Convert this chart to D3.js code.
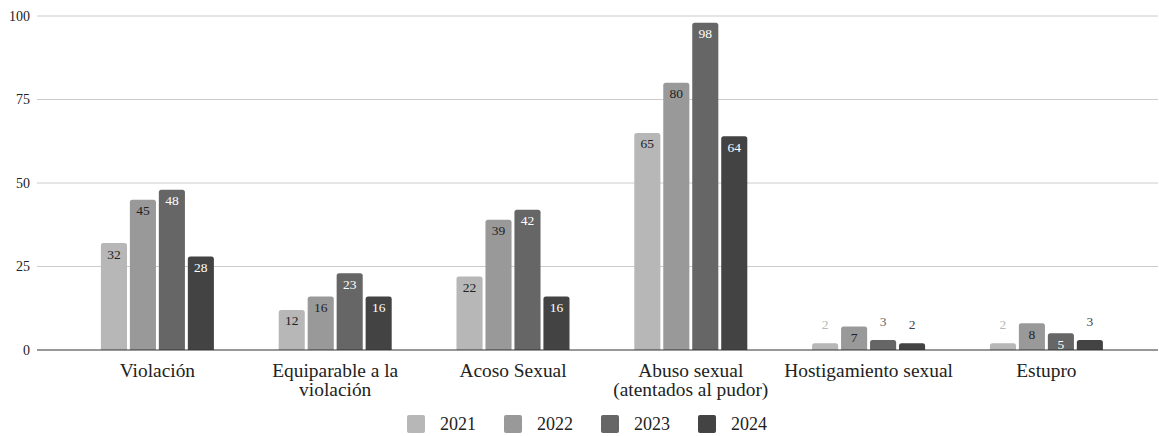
<!DOCTYPE html>
<html>
<head>
<meta charset="utf-8">
<script src="https://cdn.jsdelivr.net/npm/d3@7"></script>
<style>
  html, body { margin: 0; padding: 0; background: #ffffff; }
  svg { display: block; }
  text { font-family: "Liberation Serif", "Times New Roman", Times, serif; }
</style>
</head>
<body>
<svg id="chart" width="1159" height="436"></svg>
<script>
// ---- data ----
const categories = ["Violación", "Equiparable a la\nviolación", "Acoso Sexual", "Abuso sexual\n(atentados al pudor)", "Hostigamiento sexual", "Estupro"];
const years = ["2021", "2022", "2023", "2024"];
const values2021 = [32, 12, 22, 65, 2, 2];
const values2022 = [45, 16, 39, 80, 7, 8];
const values2023 = [48, 23, 42, 98, 3, 5];
const values2024 = [28, 16, 16, 64, 2, 3];
const yTicks = [0, 25, 50, 75, 100];
const colors = ["#b7b7b7", "#999999", "#666666", "#434343"];
const labelInsideColors = ["#222222", "#222222", "#ffffff", "#ffffff"];

const seriesValues = [values2021, values2022, values2023, values2024];

// ---- layout ----
const svg = d3.select("#chart");
const gridLeft = 37, gridRight = 1158;

const y = d3.scaleLinear().domain([0, 100]).range([350, 16]);
const x0 = d3.scaleBand().domain(categories).range([68.5, 1135.3]).padding(0);
const x1 = d3.scaleBand().domain(years).range([0, x0.bandwidth()]).paddingInner(0.1).paddingOuter(1.118);
const color = d3.scaleOrdinal().domain(years).range(colors);

// gridlines
svg.append("g").selectAll("line")
  .data(yTicks.filter(t => t !== 0))
  .join("line")
  .attr("x1", gridLeft).attr("x2", gridRight)
  .attr("y1", d => y(d)).attr("y2", d => y(d))
  .attr("stroke", "#cccccc").attr("stroke-width", 1);

// y axis labels
const yAxis = d3.axisLeft(y).tickValues(yTicks).tickSize(0).tickPadding(0).tickFormat(d3.format("d"));
const yg = svg.append("g").attr("transform", `translate(30,0)`).call(yAxis);
yg.select(".domain").remove();
yg.selectAll("text").attr("font-size", 14).attr("fill", "#222").attr("font-family", "Liberation Serif, Times New Roman, serif");

// bars
function roundedTop(x, yTop, w, h, r) {
  r = Math.min(r, h, w / 2);
  return `M${x},${yTop + h}V${yTop + r}Q${x},${yTop} ${x + r},${yTop}H${x + w - r}Q${x + w},${yTop} ${x + w},${yTop + r}V${yTop + h}Z`;
}

const rows = [];
categories.forEach((c, ci) => {
  years.forEach((yr, si) => {
    rows.push({ cat: c, year: yr, si: si, value: seriesValues[si][ci] });
  });
});

const bars = svg.append("g");
bars.selectAll("path")
  .data(rows)
  .join("path")
  .attr("d", d => {
    const bx = x0(d.cat) + x1(d.year);
    const top = y(d.value);
    return roundedTop(bx, top, x1.bandwidth(), y(0) - top, 2.5);
  })
  .attr("fill", d => color(d.year));

// bar labels
svg.append("g").selectAll("text")
  .data(rows)
  .join("text")
  .attr("x", d => x0(d.cat) + x1(d.year) + x1.bandwidth() / 2)
  .attr("y", d => {
    const top = y(d.value);
    const h = y(0) - top;
    return h >= 15 ? top + 15.5 : top - 14;
  })
  .attr("text-anchor", "middle")
  .attr("font-size", 13.5)
  .attr("fill", d => (y(0) - y(d.value)) >= 15 ? labelInsideColors[d.si] : colors[d.si])
  .text(d => d.value);

// baseline
svg.append("line")
  .attr("x1", gridLeft).attr("x2", gridRight)
  .attr("y1", y(0)).attr("y2", y(0))
  .attr("stroke", "#333333").attr("stroke-width", 1.2);

// x axis labels
const xg = svg.append("g");
categories.forEach(c => {
  const lines = c.split("\n");
  const cx = x0(c) + x0.bandwidth() / 2;
  const t = xg.append("text")
    .attr("x", cx)
    .attr("y", 376.5)
    .attr("text-anchor", "middle")
    .attr("font-size", 19.4)
    .attr("fill", "#222");
  lines.forEach((ln, i) => {
    t.append("tspan").attr("x", cx).attr("dy", i === 0 ? 0 : 19).text(ln);
  });
});

// legend
const legend = svg.append("g");
const legendX = d3.scalePoint().domain(years).range([407, 698]);
years.forEach((yr, i) => {
  const lx = legendX(yr);
  legend.append("rect").attr("x", lx).attr("y", 415).attr("width", 18).attr("height", 18)
    .attr("rx", 2).attr("fill", colors[i]);
  legend.append("text").attr("x", lx + 33).attr("y", 430).attr("font-size", 18)
    .attr("fill", "#222").text(yr);
});
</script>
</body>
</html>
